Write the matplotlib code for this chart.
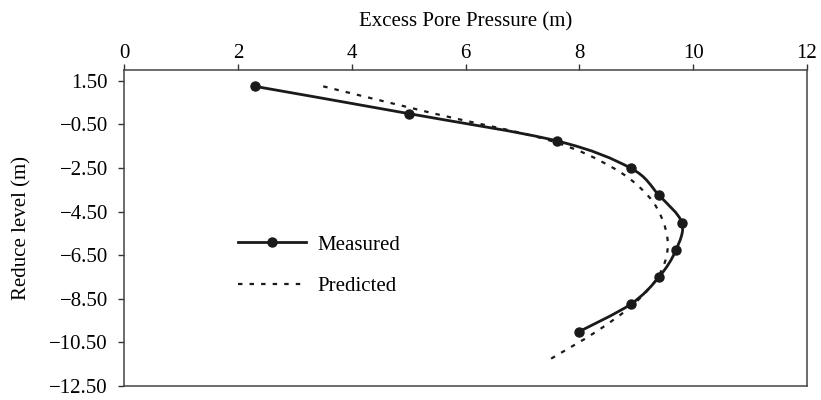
import matplotlib as mpl
import matplotlib.pyplot as plt
from matplotlib.path import Path
from matplotlib.patches import PathPatch
from matplotlib.lines import Line2D

mpl.use('Agg')

# reduce level (m) and excess pore pressure (m)
nivel_medido = [1.25, 0.0, -1.25, -2.5, -3.75, -5.0, -6.25, -7.5, -8.75, -10.0]
pressao_medida = [2.3, 5.0, 7.6, 8.9, 9.4, 9.8, 9.7, 9.4, 8.9, 8.0]

nivel_previsto = [1.25, 0.0, -1.25, -2.5, -3.75, -5.0, -6.25, -7.5, -8.75, -10.0, -11.25]
pressao_prevista = [3.5, 5.45, 7.5, 8.6, 9.2, 9.48, 9.55, 9.38, 8.95, 8.3, 7.5]

ticks_x = [0, 2, 4, 6, 8, 10, 12]
ticks_y = [1.5, -0.5, -2.5, -4.5, -6.5, -8.5, -10.5, -12.5]


def caminho_suave(x, y):
    # curva de Bezier que passa por todos os pontos (estilo Catmull-Rom)
    pts = list(zip(x, y))
    verts = [pts[0]]
    codes = [Path.MOVETO]
    for i in range(len(pts) - 1):
        p0 = pts[i - 1] if i > 0 else pts[i]
        p1 = pts[i]
        p2 = pts[i + 1]
        p3 = pts[i + 2] if i + 2 < len(pts) else pts[i + 1]
        c1 = (p1[0] + (p2[0] - p0[0]) / 6, p1[1] + (p2[1] - p0[1]) / 6)
        c2 = (p2[0] - (p3[0] - p1[0]) / 6, p2[1] - (p3[1] - p1[1]) / 6)
        verts += [c1, c2, p2]
        codes += [Path.CURVE4] * 3
    return Path(verts, codes)


plt.rcParams['font.family'] = ['Liberation Serif', 'DejaVu Serif']
plt.rcParams['font.size'] = 15

fig = plt.figure(figsize=(8.21, 4.0), dpi=100)
ax = fig.add_axes([124 / 821, 14 / 400, 683 / 821, 316 / 400])

cor = '#1a1a1a'
ax.add_patch(PathPatch(caminho_suave(pressao_medida, nivel_medido),
                       fill=False, ec=cor, lw=2.0))
ax.plot(pressao_medida, nivel_medido, 'o', color=cor, ms=6.5, zorder=3)
ax.add_patch(PathPatch(caminho_suave(pressao_prevista, nivel_previsto),
                       fill=False, ec=cor, lw=1.6, linestyle=(0, (2, 3.2))))

ax.set_xlim(0, 12)
ax.set_ylim(-12.5, 2.0)
ax.xaxis.tick_top()
ax.xaxis.set_label_position('top')
ax.set_xticks(ticks_x)
ax.set_yticks(ticks_y)
ax.set_yticklabels(['%.2f' % v if v >= 0 else '\u2212%.2f' % -v for v in ticks_y])
ax.set_xlabel('Excess Pore Pressure (m)', labelpad=12.5)
ax.set_ylabel('Reduce level (m)', labelpad=13)
ax.tick_params(axis='x', direction='out', length=4, width=1, color='#333333', pad=1)
ax.tick_params(axis='y', direction='out', length=4.5, width=1, color='#333333', pad=7)
for s in ax.spines.values():
    s.set_color('#444444')
    s.set_linewidth(1.1)

medido = Line2D([], [], color=cor, lw=2.0, marker='o', ms=6.5)
previsto = Line2D([], [], color=cor, lw=1.6, linestyle=(0, (2, 3.2)))
ax.legend([medido, previsto], ['Measured', 'Predicted'], frameon=False,
          loc='upper left', bbox_to_anchor=(238 / 821, 1 - 235 / 400),
          bbox_transform=fig.transFigure, handlelength=3.27, handletextpad=0.53,
          labelspacing=1.05, borderpad=0, borderaxespad=0)

plt.savefig('out.png', dpi=100)
